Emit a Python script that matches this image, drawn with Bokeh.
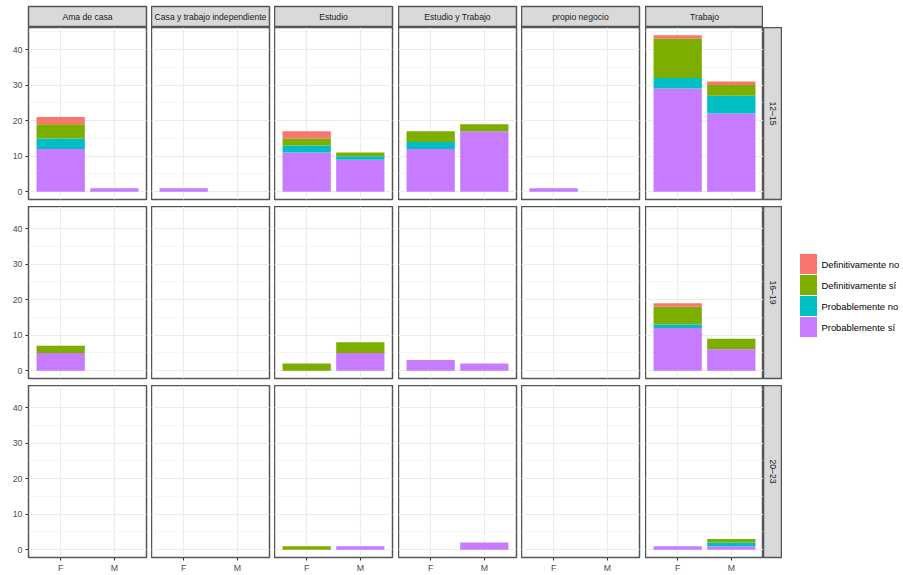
import math

from bokeh.core.properties import value
from bokeh.embed import file_html
from bokeh.layouts import row
from bokeh.models import (CategoricalAxis, CategoricalTicker, ColumnDataSource,
                          FactorRange, GridBox, Grid, LinearAxis, Range1d,
                          SingleIntervalTicker)
from bokeh.plotting import figure
from bokeh.resources import INLINE

# ---------------------------------------------------------------- data
occupations = ["Ama de casa", "Casa y trabajo independiente", "Estudio",
               "Estudio y Trabajo", "propio negocio", "Trabajo"]
ages = ["12–15", "16–19", "20–23"]
sexes = ["F", "M"]

# legend order (top to bottom) and fill colours
answers = ["Definitivamente no", "Definitivamente sí",
           "Probablemente no", "Probablemente sí"]
colors = ["#F8766D", "#7CAE00", "#00BFC4", "#C77CFF"]

# counts per age group: one (F, M) pair per occupation, in occupation order
prob_si = {
    "12–15": [(12, 1), (1, 0), (11, 9), (12, 17), (1, 0), (29, 22)],
    "16–19": [(5, 0), (0, 0), (0, 5), (3, 2), (0, 0), (12, 6)],
    "20–23": [(0, 0), (0, 0), (0, 1), (0, 2), (0, 0), (1, 1)],
}
prob_no = {
    "12–15": [(3, 0), (0, 0), (2, 1), (2, 0), (0, 0), (3, 5)],
    "16–19": [(0, 0), (0, 0), (0, 0), (0, 0), (0, 0), (1, 0)],
    "20–23": [(0, 0), (0, 0), (0, 0), (0, 0), (0, 0), (0, 1)],
}
def_si = {
    "12–15": [(4, 0), (0, 0), (2, 1), (3, 2), (0, 0), (11, 3)],
    "16–19": [(2, 0), (0, 0), (2, 3), (0, 0), (0, 0), (5, 3)],
    "20–23": [(0, 0), (0, 0), (1, 0), (0, 0), (0, 0), (0, 1)],
}
def_no = {
    "12–15": [(2, 0), (0, 0), (2, 0), (0, 0), (0, 0), (1, 1)],
    "16–19": [(0, 0), (0, 0), (0, 0), (0, 0), (0, 0), (1, 0)],
    "20–23": [(0, 0), (0, 0), (0, 0), (0, 0), (0, 0), (0, 0)],
}
counts = {
    "Definitivamente no": def_no,
    "Definitivamente sí": def_si,
    "Probablemente no": prob_no,
    "Probablemente sí": prob_si,
}

# ---------------------------------------------------------------- layout
FONT = "Liberation Sans"
FRAME_W, FRAME_H = 118, 172
LEFT = 28              # room for the y tick labels
TOP = 6
STRIP_H = 21
STRIP_W = 19
LEGEND_W = 121
gap_right = [5, 5, 6, 5, 6, 0]
gap_bottom = [7, 7, 18]
Y_RANGE = (-2.2, 46.2)
TOTAL_H = TOP + STRIP_H + sum(FRAME_H + g for g in gap_bottom)

BORDER = "#555555"
BORDER_W = 1.5
TICK = "#333333"
STRIP_FILL = "#D9D9D9"
GRID = "#EBEBEB"

# stacking order: bottom segment first
stack_order = list(reversed(answers))
stack_colors = list(reversed(colors))


def base_figure(left=0, right=0, top=0, bottom=0, fw=FRAME_W, fh=FRAME_H, **kw):
    p = figure(width=left + fw + right, height=top + fh + bottom,
               min_border=0, min_border_left=left, min_border_right=right,
               min_border_top=top, min_border_bottom=bottom,
               toolbar_location=None, tools="", output_backend="svg",
               title=None, x_axis_location=None, y_axis_location=None, **kw)
    p.center = []
    p.border_fill_color = "white"
    return p


def style_axis(ax):
    ax.axis_line_color = None
    ax.major_tick_line_color = TICK
    ax.major_tick_line_width = 1
    ax.major_tick_in = 0
    ax.major_tick_out = 3
    ax.minor_tick_line_color = None
    ax.major_label_text_color = "#4D4D4D"
    ax.major_label_text_font = FONT
    ax.major_label_text_font_size = "8.8px"
    ax.major_label_standoff = 2


def panel(r, c):
    age = ages[r]
    data = {"sex": sexes}
    for ans in answers:
        data[ans] = list(counts[ans][age][c])
    src = ColumnDataSource(data)

    p = base_figure(left=LEFT if c == 0 else 0, right=gap_right[c],
                    bottom=gap_bottom[r],
                    x_range=FactorRange(*sexes, range_padding=0.1),
                    y_range=Range1d(*Y_RANGE))
    p.background_fill_color = "white"
    p.outline_line_color = BORDER
    p.outline_line_width = BORDER_W

    yt = SingleIntervalTicker(interval=10, num_minor_ticks=2)
    xt = CategoricalTicker()
    p.add_layout(Grid(dimension=1, ticker=yt, grid_line_color=GRID,
                      grid_line_width=1.1, minor_grid_line_color="#F0F0F0",
                      minor_grid_line_width=0.6), "center")
    p.add_layout(Grid(dimension=0, ticker=xt, grid_line_color=GRID,
                      grid_line_width=1.1), "center")

    p.vbar_stack(stack_order, x="sex", width=0.9, color=stack_colors,
                 line_color=None, source=src)

    if c == 0:
        ax = LinearAxis(ticker=yt)
        style_axis(ax)
        p.add_layout(ax, "left")
    if r == len(ages) - 1:
        ax = CategoricalAxis(ticker=xt)
        style_axis(ax)
        p.add_layout(ax, "below")
    return p


def top_strip(c):
    name = occupations[c]
    s = base_figure(left=LEFT if c == 0 else 0, right=gap_right[c], top=TOP,
                    fh=STRIP_H,
                    x_range=FactorRange(name), y_range=Range1d(-1, 1))
    s.background_fill_color = STRIP_FILL
    s.outline_line_color = BORDER
    s.outline_line_width = BORDER_W
    s.text(x=[name], y=[0], text=[name], text_align="center",
           text_baseline="middle", text_font=value(FONT),
           text_font_size="8.6px", text_color="#1A1A1A")
    return s


def side_strip(r):
    age = ages[r]
    s = base_figure(fw=STRIP_W, bottom=gap_bottom[r],
                    x_range=Range1d(-1, 1), y_range=FactorRange(age))
    s.background_fill_color = STRIP_FILL
    s.outline_line_color = BORDER
    s.outline_line_width = BORDER_W
    s.text(x=[0], y=[age], text=[age], angle=-math.pi / 2,
           text_align="center", text_baseline="middle",
           text_font=value(FONT), text_font_size="8.6px",
           text_color="#1A1A1A")
    return s


def legend_figure():
    key_h = STRIP_H
    top = 253
    keys_h = key_h * len(answers)
    lg = base_figure(fw=LEGEND_W, fh=keys_h, top=top,
                     bottom=TOTAL_H - top - keys_h,
                     x_range=Range1d(0, LEGEND_W),
                     y_range=FactorRange(*reversed(answers)))
    lg.outline_line_color = None
    lg.rect(x=26, y=answers, width=18, height=1, fill_color=colors,
            line_color="white", line_width=1)
    lg.text(x=39, y=answers, text=answers, text_align="left",
            text_baseline="middle", text_font=value(FONT),
            text_font_size="9.4px", text_color="black")
    return lg


children = []
for c in range(len(occupations)):
    children.append((top_strip(c), 0, c))
for r in range(len(ages)):
    for c in range(len(occupations)):
        children.append((panel(r, c), r + 1, c))
    children.append((side_strip(r), r + 1, len(occupations)))

grid = GridBox(children=children, spacing=0)
layout = row(grid, legend_figure(), spacing=0)

open("out.html", "w").write(file_html(layout, INLINE))
